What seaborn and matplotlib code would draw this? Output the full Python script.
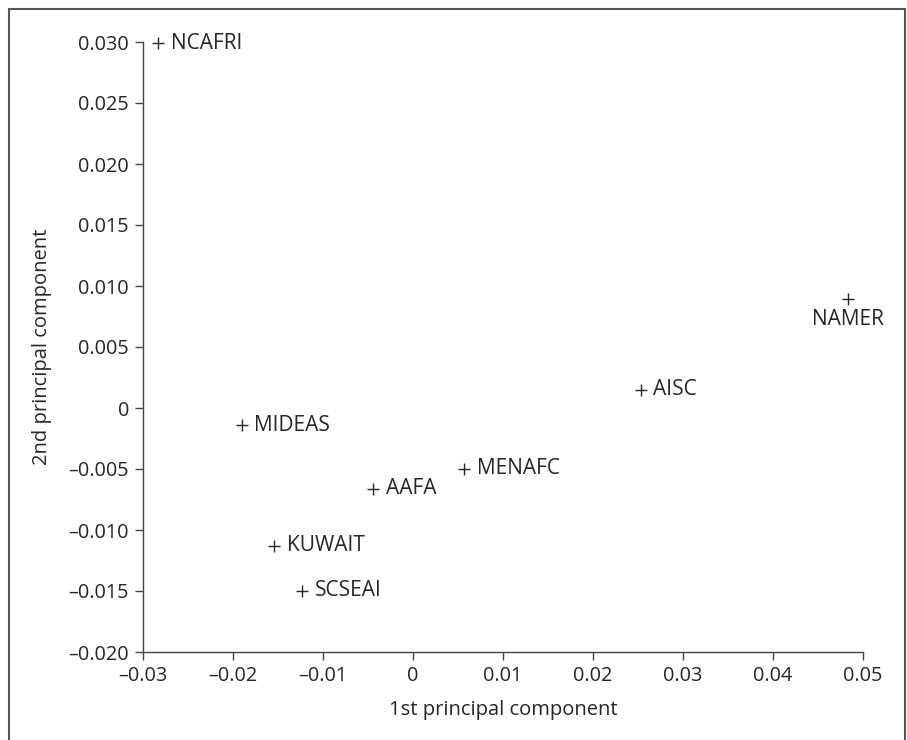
import matplotlib
matplotlib.use("Agg")
import numpy as np
import pandas as pd
import seaborn as sns
from matplotlib import pyplot as plt
from matplotlib.patches import Rectangle
from matplotlib.ticker import FuncFormatter, MultipleLocator

# Data
regions = ["NCAFRI", "NAMER", "AISC", "MIDEAS", "MENAFC", "AAFA", "KUWAIT", "SCSEAI"]
pc1 = [-0.0283, 0.0483, 0.0253, -0.0190, 0.0057, -0.0044, -0.0154, -0.0123]
pc2 = [0.0299, 0.0089, 0.0015, -0.0014, -0.0050, -0.0066, -0.0113, -0.0150]

df = pd.DataFrame({"region": regions, "pc1": pc1, "pc2": pc2})

sns.set_style("ticks")
plt.rcParams["font.family"] = ["Open Sans", "DejaVu Sans"]

ink = "#262626"
fig = plt.figure(figsize=(9.07, 7.4), dpi=100)
ax = fig.add_axes([143 / 907, 88 / 740, 720 / 907, 610 / 740])

# "+" markers
sns.scatterplot(data=df, x="pc1", y="pc2", marker="+", s=70, color=ink,
                linewidth=1.0, ax=ax, legend=False, clip_on=False)

# point labels
for _, r in df.iterrows():
    if r["region"] == "NAMER":
        ax.annotate(r["region"], (r["pc1"], r["pc2"]), xytext=(0, -7),
                    textcoords="offset points", ha="center", va="top",
                    fontsize=15, color=ink)
    else:
        ax.annotate(r["region"], (r["pc1"], r["pc2"]), xytext=(9, 0),
                    textcoords="offset points", ha="left", va="center",
                    fontsize=15, color=ink)

ax.set_xlim(-0.03, 0.05)
ax.set_ylim(-0.02, 0.03)
ax.xaxis.set_major_locator(MultipleLocator(0.01))
ax.yaxis.set_major_locator(MultipleLocator(0.005))


def fmt(decimals):
    def f(v, pos):
        if abs(v) < 1e-12:
            return "0"
        s = f"{abs(v):.{decimals}f}"
        return ("\u2013" + s) if v < 0 else s
    return FuncFormatter(f)


ax.xaxis.set_major_formatter(fmt(2))
ax.yaxis.set_major_formatter(fmt(3))

sns.despine(ax=ax)
for side in ("left", "bottom"):
    ax.spines[side].set_color("#444444")
    ax.spines[side].set_linewidth(1.0)
ax.tick_params(axis="both", direction="out", length=6, width=1.0,
               color="#444444", labelcolor=ink, labelsize=14.3, pad=4)

ax.set_xlabel("1st principal component", fontsize=14.5, color=ink, labelpad=10)
ax.set_ylabel("2nd principal component", fontsize=14.5, color=ink, labelpad=12)

# outer frame around the figure (open at the bottom)
fig.patches.append(Rectangle((9 / 907, -0.05), 896 / 907, 1.05 - 9 / 740,
                             transform=fig.transFigure, fill=False,
                             edgecolor="#555555", linewidth=1.5))

fig.savefig("out.png", dpi=100)
